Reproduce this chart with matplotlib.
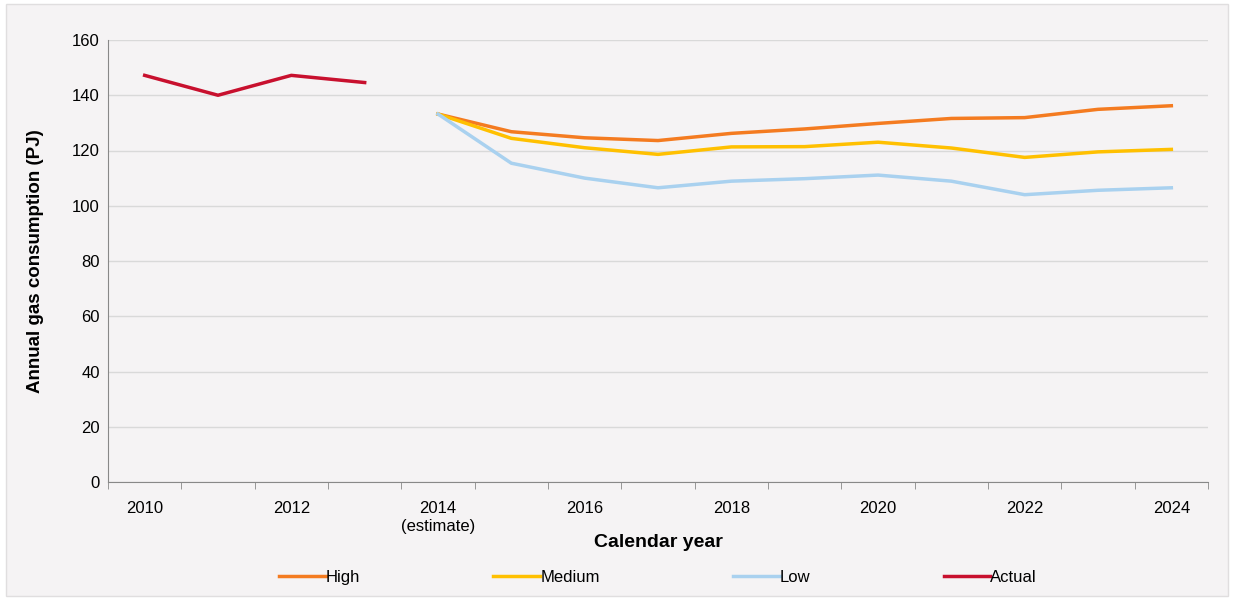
import numpy as np
import matplotlib.pyplot as plt
from matplotlib.patches import Rectangle

plt.rcParams['font.family'] = ['Liberation Sans', 'DejaVu Sans']

years = list(range(2010, 2025))
tick_labels = ['2010', '', '2012', '', '2014\n(estimate)', '', '2016', '', '2018', '',
               '2020', '', '2022', '', '2024']
actual = [147.2, 140.0, 147.2, 144.6]
high = [133.2, 126.8, 124.6, 123.6, 126.2, 127.8, 129.8, 131.6, 131.9, 134.9, 136.2]
medium = [133.2, 124.4, 121.0, 118.6, 121.3, 121.4, 123.0, 120.9, 117.5, 119.5, 120.4]
low = [133.2, 115.4, 110.0, 106.5, 108.9, 109.8, 111.1, 108.9, 104.0, 105.6, 106.5]

fig = plt.figure(figsize=(12.33, 6.0), dpi=100, facecolor='white')
fig.patches.append(Rectangle((6 / 1233, 4 / 600), 1222 / 1233, 592 / 600, transform=fig.transFigure,
                             facecolor='#f5f3f4', edgecolor='#e0dedf', linewidth=1, zorder=-10))
ax = fig.add_axes([108 / 1233, 1 - 482 / 600, 1100 / 1233, 442 / 600])
ax.set_facecolor('none')

x = np.arange(len(years))
ax.plot(x[4:], high, color='#f47b20', lw=2.5, label='High')
ax.plot(x[4:], medium, color='#ffc000', lw=2.5, label='Medium')
ax.plot(x[4:], low, color='#a9d1ef', lw=2.5, label='Low')
ax.plot(x[:4], actual, color='#c8102e', lw=2.5, label='Actual')

ax.set_xlim(-0.5, len(years) - 0.5)
ax.set_ylim(0, 160)
ax.set_yticks(range(0, 161, 20))
ax.set_xticks(x)
ax.set_xticklabels(tick_labels, fontsize=12)
ax.tick_params(axis='x', length=0, pad=14)
ax.set_xticks(np.arange(-0.5, len(years)), minor=True)
ax.tick_params(axis='x', which='minor', length=5, color='#888888')
ax.tick_params(axis='y', labelsize=12, length=0, pad=6)
ax.grid(axis='y', color='#d9d9d9', lw=1)
ax.set_axisbelow(True)
for s in ['top', 'right']:
    ax.spines[s].set_visible(False)
ax.spines['left'].set_color('#888888')
ax.spines['bottom'].set_color('#888888')

ax.set_xlabel('Calendar year', fontsize=14, fontweight='bold', labelpad=0)
ax.set_ylabel('Annual gas consumption (PJ)', fontsize=13.5, fontweight='bold', labelpad=20)
ax.legend(loc='upper center', bbox_to_anchor=(0.5, -0.165), ncol=4, frameon=False,
          fontsize=12, handlelength=2.8, columnspacing=8.0, handletextpad=0.0)

fig.savefig('out.png', dpi=100)
